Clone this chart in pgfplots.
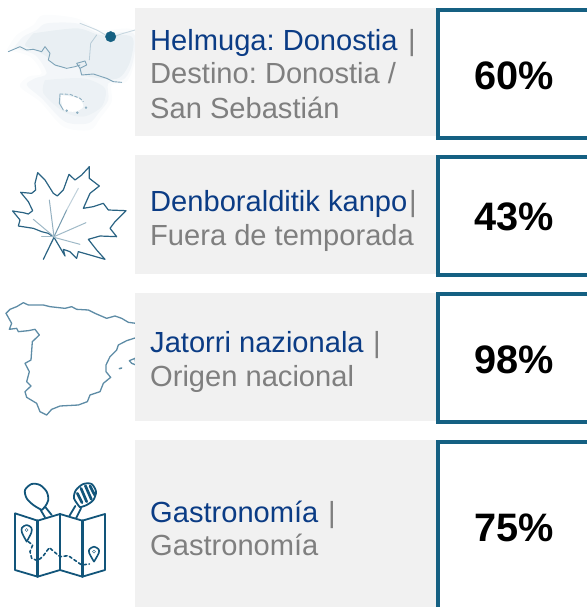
\documentclass[border=0pt]{standalone}
\usepackage{pgfplots}
\pgfplotsset{compat=1.18}
\usepackage{fontspec}
\setmainfont{Liberation Sans}
\frenchspacing
\definecolor{boxb}{HTML}{156082}
\definecolor{gbg}{HTML}{F1F1F1}
\definecolor{ttl}{HTML}{0B3C85}
\definecolor{sub}{HTML}{7F7F7F}
\definecolor{ico}{HTML}{2A6383}
\definecolor{mapb}{HTML}{12557A}
\definecolor{spn}{HTML}{5E8CA6}
\definecolor{pale}{HTML}{DCE6EC}
\pgfplotsset{
 crop/.style 2 args={x filter/.expression={x/3+#1},y filter/.expression={y/3+#2}},
 line/.style={no markers,line join=round,line cap=round}
}
\newcommand{\ttlline}[3]{\node[anchor=base west,inner sep=0pt,font=\fontsize{29.1}{31}\selectfont,text=ttl] at (axis cs:#1,#2) {#3};}
\newcommand{\subline}[3]{\node[anchor=base west,inner sep=0pt,font=\fontsize{29.1}{31}\selectfont,text=sub] at (axis cs:#1,#2) {#3};}
\begin{document}
\begin{tikzpicture}[x=1pt,y=1pt]
\begin{axis}[scale only axis,width=587pt,height=607pt,xmin=0,xmax=587,ymin=0,ymax=607,y dir=reverse,axis lines=none,clip=true,/pgf/number format/assume math mode=true]
\path (axis cs:0,0) rectangle (axis cs:587,607);
% --- map of Donostia
\addplot[line,fill=pale,fill opacity=.12,draw=none,smooth,crop={0}{0}] coordinates {(20,150)(50,105)(100,75)(130,45)(230,55)(300,90)(400,90)(405,180)(380,245)(335,255)(335,305)(300,355)(270,390)(190,380)(120,305)(60,260)(85,230)(125,220)(90,170)(20,150)};
\addplot[line,fill=pale,fill opacity=.25,draw=none,smooth,crop={0}{0}] coordinates {(40,145)(70,110)(110,90)(140,70)(230,70)(300,100)(400,100)(400,180)(375,235)(325,250)(325,300)(295,340)(265,370)(195,365)(125,295)(80,255)(105,235)(140,220)(105,165)(40,145)};
\addplot[line,fill=pale,fill opacity=.45,draw=none,smooth,crop={0}{0}] coordinates {(100,100)(230,85)(300,105)(395,110)(392,180)(365,228)(330,238)(245,225)(235,200)(170,200)(140,170)(105,150)(75,135)(100,100)};
\addplot[line,fill=pale,fill opacity=.3,draw=none,smooth,crop={0}{0}] coordinates {(135,240)(250,235)(315,265)(305,320)(250,350)(190,335)(130,280)(135,240)};
\addplot[line,fill=white,draw=none,smooth,crop={0}{0}] coordinates {(182,285)(235,295)(250,320)(225,335)(190,328)(182,285)};
\addplot[line,color=spn!35,line width=.9pt,smooth,crop={0}{0}] coordinates {(240,70)(290,90)(330,110)(370,100)(405,90)};
\addplot[line,color=spn!80,line width=.9pt,crop={0}{0}] coordinates {(25,155)(60,140)(80,150)(100,148)(125,155)(135,140)(150,160)(145,180)(165,195)(200,205)(225,200)(240,195)};
\addplot[line,color=spn!80,line width=.9pt,crop={0}{0}] coordinates {(230,190)(255,183)(260,195)(240,205)(230,190)};
\addplot[line,color=spn!45,line width=.8pt,crop={0}{0}] coordinates {(268,180)(272,130)(290,105)};
\addplot[line,color=spn!80,line width=.9pt,crop={0}{0}] coordinates {(240,205)(245,225)(280,222)(320,235)(340,245)(365,247)};
\addplot[line,color=spn!70,line width=.9pt,crop={0}{0}] coordinates {(180,282)(178,310)(190,330)};
\addplot[line,color=spn!70,line width=.9pt,dash pattern=on 3pt off 2pt,crop={0}{0}] coordinates {(180,282)(210,283)(240,295)(250,305)};
\addplot[only marks,mark=*,mark size=1pt,color=spn!70,crop={0}{0}] coordinates {(258,323)(200,332)(232,338)};
\addplot[only marks,mark=*,mark size=5.2pt,color=boxb,mark options={draw=none},crop={0}{0}] coordinates {(332,110)};
% --- leaf
\addplot[line,color=ico,line width=1.2pt,crop={0}{150}] coordinates {(38,183)(70,188)(85,192)(98,182)(85,155)(62,127)(95,130)(107,120)(105,100)(113,68)(135,90)(160,130)(172,138)(190,120)(207,73)(225,90)(245,75)(268,50)(268,85)(298,108)(270,130)(250,175)(280,170)(310,160)(325,180)(378,182)(345,215)(330,235)(350,260)(300,258)(265,268)(290,300)(315,328)(270,315)(235,305)(230,325)(210,305)(190,298)(195,318)(162,262)(130,328)};
\addplot[line,color=ico,line width=1.2pt,crop={0}{150}] coordinates {(38,183)(60,210)(55,228)(100,235)(125,245)(145,250)(162,262)};
\addplot[line,color=ico!65,line width=1pt,crop={0}{150}] coordinates {(162,260)(200,180)};
\addplot[line,color=ico!30,line width=1pt,crop={0}{150}] coordinates {(200,180)(235,115)};
\addplot[line,color=ico!50,line width=1pt,crop={0}{150}] coordinates {(162,260)(148,150)};
\addplot[line,color=ico!45,line width=1pt,crop={0}{150}] coordinates {(162,260)(100,208)};
\addplot[line,color=ico!45,line width=1pt,crop={0}{150}] coordinates {(162,260)(258,218)};
\addplot[line,color=ico!45,line width=1pt,crop={0}{150}] coordinates {(125,258)(162,258)};
\addplot[line,color=ico!45,line width=1pt,crop={0}{150}] coordinates {(162,262)(240,283)};
% --- Spain
\addplot[line,color=spn,line width=1.3pt,crop={0}{290}] coordinates {(18,70)(30,58)(50,50)(70,38)(85,45)(130,45)(150,50)(195,55)(215,50)(230,58)(265,60)(285,70)(320,85)(345,78)(365,85)(385,97)(408,100)};
\addplot[line,color=spn,line width=1.3pt,crop={0}{290}] coordinates {(408,143)(380,152)(355,165)(350,180)(330,200)(318,225)(318,245)(332,262)(310,280)(300,305)(270,315)(262,335)(235,345)(180,348)(155,358)(140,375)(120,365)(110,340)(80,322)(75,305)(93,288)(80,275)(88,245)(75,220)(93,210)(97,155)(118,135)(105,118)(85,122)(55,125)(50,115)(28,118)(35,100)(18,70)};
\addplot[line,color=spn,line width=1.3pt,crop={0}{290}] coordinates {(388,212)(405,205)(408,225)(395,220)(388,212)};
\addplot[line,color=spn,line width=1.5pt,crop={0}{290}] coordinates {(358,236)(365,234)};
% --- map with spoon and fork
\addplot[line,color=mapb,line width=1.8pt,smooth,crop={0}{460}] coordinates {(125,150)(100,135)(80,115)(75,90)(95,72)(120,75)(140,95)(145,120)(135,140)(125,150)};
\addplot[line,color=mapb,line width=1.8pt,crop={0}{460}] coordinates {(122,150)(135,172)};
\addplot[line,color=mapb,line width=1.8pt,crop={0}{460}] coordinates {(135,140)(155,165)};
\addplot[line,color=mapb,line width=1.8pt,smooth,crop={0}{460}] coordinates {(240,142)(222,115)(228,90)(250,72)(275,72)(288,95)(280,120)(260,135)(240,142)};
\addplot[line,color=mapb,line width=1.8pt,crop={0}{460}] coordinates {(226,138)(208,168)};
\addplot[line,color=mapb,line width=1.8pt,crop={0}{460}] coordinates {(243,145)(228,175)};
\addplot[line,color=mapb,line width=2.7pt,crop={0}{460}] coordinates {(232,100)(246,128)};
\addplot[line,color=mapb,line width=2.7pt,crop={0}{460}] coordinates {(243,85)(260,125)};
\addplot[line,color=mapb,line width=2.7pt,crop={0}{460}] coordinates {(256,77)(274,118)};
\addplot[line,color=mapb,line width=2.7pt,crop={0}{460}] coordinates {(270,78)(284,105)};
\addplot[line,color=mapb,fill=white,line width=1.8pt,crop={0}{460}] coordinates {(45,160)(113,182)(180,162)(247,182)(315,162)(315,330)(247,350)(180,330)(113,350)(45,330)(45,160)};
\addplot[line,color=mapb,line width=2.4pt,crop={0}{460}] coordinates {(113,182)(113,350)};
\addplot[line,color=mapb,line width=2.2pt,crop={0}{460}] coordinates {(180,162)(180,330)};
\addplot[line,color=mapb,line width=2.4pt,crop={0}{460}] coordinates {(247,182)(247,350)};
\addplot[line,color=mapb,line width=1.6pt,smooth,crop={0}{460}] coordinates {(80,245)(66,218)(66,203)(80,195)(94,203)(94,218)(80,245)};
\addplot[only marks,mark=o,mark size=1.5pt,color=mapb,crop={0}{460}] coordinates {(80,210)};
\addplot[line,color=mapb,line width=1.6pt,smooth,crop={0}{460}] coordinates {(282,305)(268,280)(268,268)(282,260)(296,268)(296,280)(282,305)};
\addplot[only marks,mark=o,mark size=1.5pt,color=mapb,crop={0}{460}] coordinates {(282,275)};
\addplot[line,color=mapb,line width=1.6pt,dash pattern=on 3pt off 2.6pt,crop={0}{460}] coordinates {(85,245)(98,255)(90,275)(95,295)(113,302)(128,290)(148,263)(180,290)(205,287)(245,315)(268,312)};
% --- rows
\fill[gbg] (axis cs:135,8) rectangle (axis cs:436,136);
\fill[gbg] (axis cs:135,155) rectangle (axis cs:436,274);
\fill[gbg] (axis cs:135,293) rectangle (axis cs:436,421);
\fill[gbg] (axis cs:135,440) rectangle (axis cs:436,607);
% --- value boxes
\draw[boxb,line width=4pt] (axis cs:587,10) -- (axis cs:438,10) -- (axis cs:438,138) -- (axis cs:587,138);
\draw[boxb,line width=4pt] (axis cs:587,157) -- (axis cs:438,157) -- (axis cs:438,274.7) -- (axis cs:587,274.7);
\draw[boxb,line width=4pt] (axis cs:587,294) -- (axis cs:438,294) -- (axis cs:438,422) -- (axis cs:587,422);
\draw[boxb,line width=4pt] (axis cs:587,442) -- (axis cs:438,442) -- (axis cs:438,607);
% --- labels
\ttlline{150}{51}{Helmuga: Donostia}
\subline{408}{51}{|}
\subline{150}{84}{Destino: Donostia /}
\subline{150}{118}{San Sebastián}
\ttlline{150}{211}{Denboralditik kanpo}
\subline{409}{211}{|}
\subline{150}{245}{Fuera de temporada}
\ttlline{150}{352}{Jatorri nazionala}
\subline{373}{352}{|}
\subline{150}{386}{Origen nacional}
\ttlline{150}{522}{Gastronomía}
\subline{328}{522}{|}
\subline{150}{555}{Gastronomía}
% --- values
\addplot[only marks,mark=none,point meta=explicit,
 nodes near coords={\pgfmathprintnumber[precision=0]{\pgfplotspointmeta}\%},
 nodes near coords align={center},
 every node near coord/.append style={font=\fontsize{39.7}{42}\selectfont\bfseries,text=black,anchor=center,inner sep=0pt}]
 table[x=x,y=y,meta=v] {
 x y v
 514 75.5 60
 514 217 43
 514 360 98
 514 528 75
 };
\end{axis}
\end{tikzpicture}
\end{document}
